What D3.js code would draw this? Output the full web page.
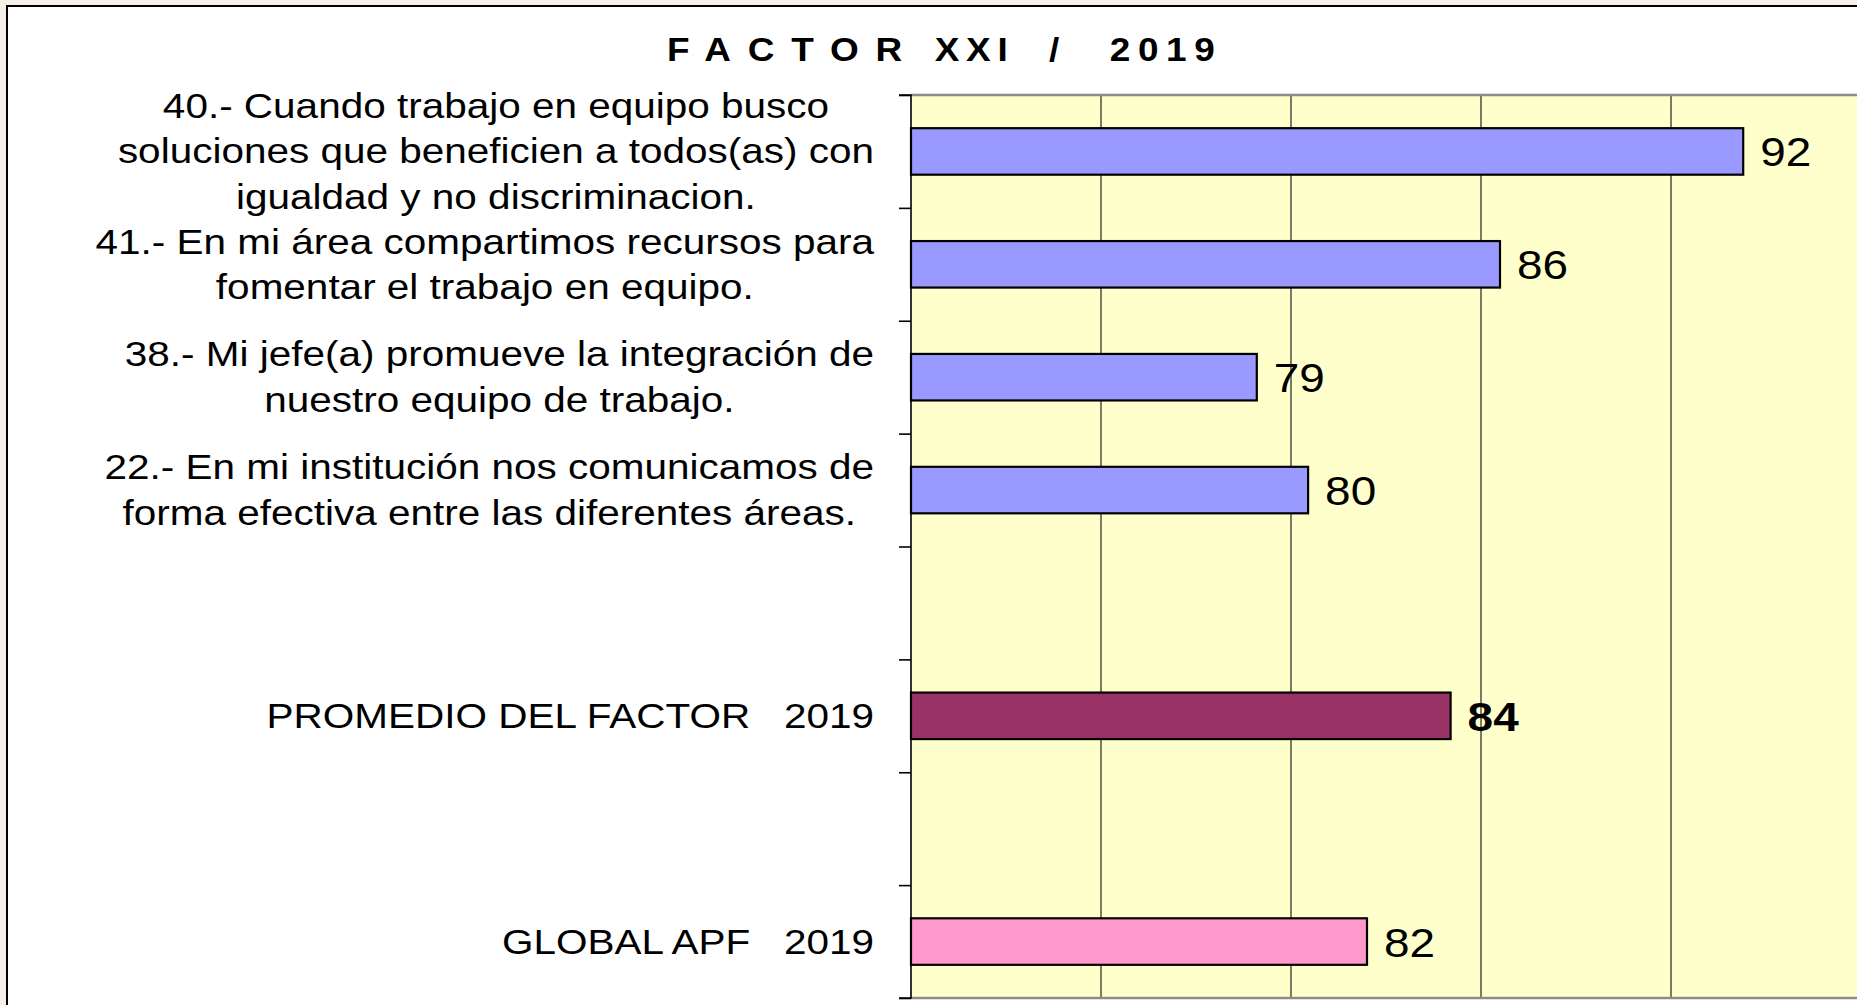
<!DOCTYPE html>
<meta charset="utf-8">
<script src="https://d3js.org/d3.v7.min.js"></script>
<style>
  body { margin: 0; background: #f6f1e7; }
  svg { display: block; }
  text { font-family: "Liberation Sans", Arial, sans-serif; fill: #000; white-space: pre; }
</style>
<div id="my_dataviz"></div>
<script>

// rows of the chart, top to bottom ("" = empty row), "|" = line break
var categories = [
  "40.- Cuando trabajo en equipo busco|soluciones que beneficien a todos(as) con|igualdad y no discriminacion.",
  "41.- En mi área compartimos recursos para|fomentar el trabajo en equipo.",
  "38.- Mi jefe(a) promueve la integración de|nuestro equipo de trabajo.",
  "22.- En mi institución nos comunicamos de|forma efectiva entre las diferentes áreas.",
  "",
  "PROMEDIO DEL FACTOR   2019",
  "",
  "GLOBAL APF   2019"
];
var values  = [91.9, 85.5, 79.1, 80.45, null, 84.2, null, 82.0];
var rowType = ["reactivo", "reactivo", "reactivo", "reactivo", "", "promedio", "", "global"];
var xDomain = [70, 100];
var xTicks  = [75, 80, 85, 90, 95];

var colors = { reactivo: "#9999ff", promedio: "#993366", global: "#ff99cc" };

var W = 1857, H = 1005;
var plot = { left: 911, top: 95, bottom: 998 };
var stretch = 1.125;   // text in the original is a bit wide

var svg = d3.select("#my_dataviz")
  .append("svg")
    .attr("width", W)
    .attr("height", H);

// page frame
svg.append("rect")
  .attr("x", 7).attr("y", 6)
  .attr("width", W).attr("height", H)
  .style("fill", "#fff")
  .style("stroke", "#000")
  .style("stroke-width", 2);

var x = d3.scaleLinear()
  .domain(xDomain)
  .range([plot.left, plot.left + 38 * (xDomain[1] - xDomain[0])]);

var y = d3.scaleBand()
  .domain(d3.range(categories.length))
  .range([plot.top, plot.bottom]);

// plot background
svg.append("rect")
  .attr("x", x(xDomain[0])).attr("y", plot.top)
  .attr("width", x(xDomain[1]) - x(xDomain[0]))
  .attr("height", plot.bottom - plot.top)
  .style("fill", "#ffffcc");

// vertical gridlines
svg.selectAll(".grid")
  .data(xTicks)
  .enter()
  .append("line")
    .attr("x1", function(d) { return x(d); })
    .attr("x2", function(d) { return x(d); })
    .attr("y1", plot.top)
    .attr("y2", plot.bottom)
    .style("stroke", "#222")
    .style("stroke-width", 1.2);

// top / bottom borders of the plot area
[plot.top, plot.bottom].forEach(function(yy) {
  svg.append("line")
    .attr("x1", x(xDomain[0])).attr("x2", x(xDomain[1]))
    .attr("y1", yy).attr("y2", yy)
    .style("stroke", "#8c8c8c")
    .style("stroke-width", 2.5);
});

// left axis, ticks between rows, no labels
svg.append("g")
  .attr("transform", "translate(" + plot.left + ",0)")
  .call(d3.axisLeft(d3.scaleLinear().domain([0, categories.length]).range([plot.top, plot.bottom]))
        .ticks(categories.length).tickSize(12).tickFormat(""))
  .call(function(g) {
    g.selectAll("line, path").style("stroke", "#000").style("stroke-width", 1.6);
    g.select(".domain").attr("d", "M-12," + plot.top + "H0V" + plot.bottom + "H-12");
  });

// bars
var rows = d3.range(categories.length).filter(function(i) { return values[i] != null; });
var barH = y.bandwidth() * 0.412;

svg.selectAll(".bar")
  .data(rows)
  .enter()
  .append("rect")
    .attr("x", x(xDomain[0]))
    .attr("y", function(i) { return y(i) + (y.bandwidth() - barH) / 2; })
    .attr("width", function(i) { return x(values[i]) - x(xDomain[0]); })
    .attr("height", barH)
    .style("fill", function(i) { return colors[rowType[i]]; })
    .style("stroke", "#000")
    .style("stroke-width", 2.2);

// value labels
svg.selectAll(".val")
  .data(rows)
  .enter()
  .append("g")
    .attr("transform", function(i) {
      return "translate(" + (x(values[i]) + 17) + "," + (y(i) + y.bandwidth() / 2) + ") scale(1.12,1)";
    })
  .append("text")
    .attr("y", 15)
    .style("font-size", "41px")
    .style("font-weight", function(i) { return rowType[i] == "promedio" ? "bold" : "normal"; })
    .text(function(i) { return Math.round(values[i]); });

// category labels: each block centred on itself, right edge at the axis
var lineH = 45.5;
categories.forEach(function(c, i) {
  if (!c) return;
  var lines = c.split("|");
  var g = svg.append("g")
    .attr("transform", "translate(874," + (y(i) + y.bandwidth() / 2) + ") scale(" + stretch + ",1)");
  var t = g.selectAll("text")
    .data(lines)
    .enter()
    .append("text")
      .attr("y", function(d, k) { return (k - (lines.length - 1) / 2) * lineH + 12; })
      .attr("text-anchor", "middle")
      .style("font-size", "36px")
      .text(function(d) { return d; });
  var maxW = d3.max(t.nodes(), function(n) { return n.getComputedTextLength(); });
  t.attr("x", -maxW / 2);
});

// title
var title = svg.append("g")
  .attr("transform", "translate(667,61) scale(1.12,1)")
  .append("text")
    .style("font-size", "33px")
    .style("font-weight", "bold");
title.append("tspan").style("letter-spacing", "15px").text("FACTOR");
title.append("tspan").attr("dx", 14).style("letter-spacing", "6px").text("XXI");
title.append("tspan").attr("dx", 31).style("letter-spacing", "0px").text("/");
title.append("tspan").attr("dx", 45).style("letter-spacing", "6.8px").text("2019");

</script>
